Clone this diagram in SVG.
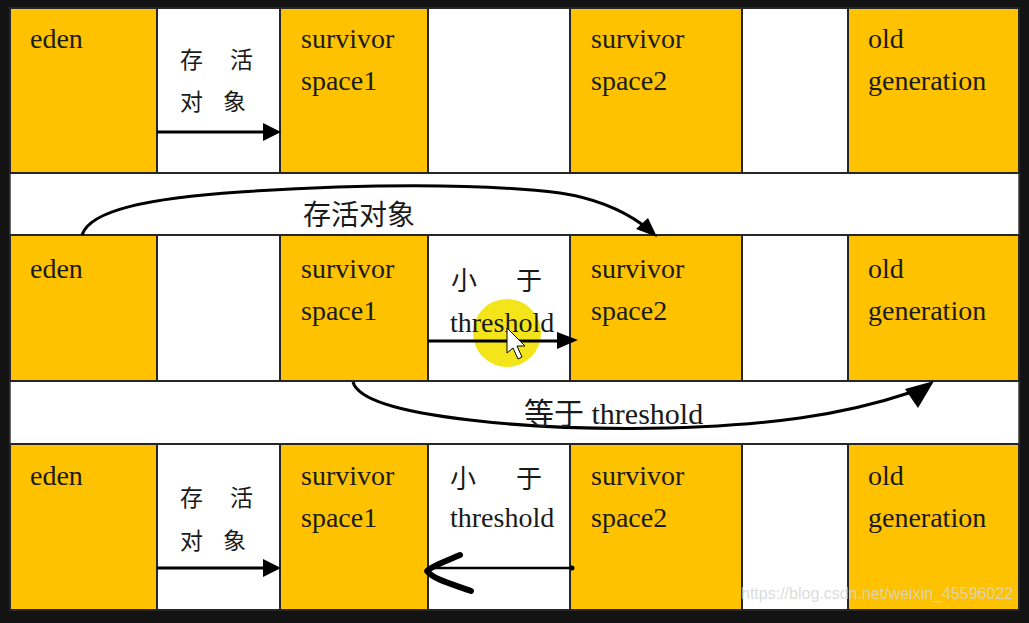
<svg xmlns="http://www.w3.org/2000/svg" width="1029" height="623" viewBox="0 0 1029 623">
<style>
.y{fill:#FFC200;stroke:#262626;stroke-width:2}
.w{fill:#FFFFFF;stroke:#262626;stroke-width:2}
.g{fill:#FFFFFF;stroke:#3a3a3a;stroke-width:1.5}
.t{font-family:"Liberation Serif","Noto Sans CJK SC",serif;font-size:28px;fill:#1a1a1a}
.c{font-family:"Liberation Serif","Noto Sans CJK SC",serif;font-size:23px;fill:#1a1a1a}
.k{font-family:"Liberation Serif","Noto Sans CJK SC",serif;font-size:26px;fill:#1a1a1a}
.ln{fill:none;stroke:#000;stroke-width:3}
.hd{fill:#000}
.wm{font-family:"Liberation Sans",sans-serif;font-size:16px;fill:#d6d6d6;fill-opacity:0.85}
</style>
<rect x="0" y="0" width="1029" height="623" fill="#131313"/>
<g id="gaps">
<rect class="g" x="10" y="173" width="1009" height="62"/>
<rect class="g" x="10" y="381" width="1009" height="63"/>
</g>
<g id="row1">
<g id="r1-eden"><rect class="y" x="10" y="8" width="147" height="165"/><text class="t" x="30" y="48">eden</text></g>
<g id="r1-gap1"><rect class="w" x="157" y="8" width="123" height="165"/></g>
<g id="r1-s1"><rect class="y" x="280" y="8" width="148" height="165"/><text class="t" x="301" y="48">survivor</text><text class="t" x="301" y="90">space1</text></g>
<g id="r1-gap2"><rect class="w" x="428" y="8" width="142" height="165"/></g>
<g id="r1-s2"><rect class="y" x="570" y="8" width="172" height="165"/><text class="t" x="591" y="48">survivor</text><text class="t" x="591" y="90">space2</text></g>
<g id="r1-gap3"><rect class="w" x="742" y="8" width="106" height="165"/></g>
<g id="r1-old"><rect class="y" x="848" y="8" width="171" height="165"/><text class="t" x="868" y="48">old</text><text class="t" x="868" y="90">generation</text></g>
</g>
<g id="row2">
<g id="r2-eden"><rect class="y" x="10" y="235" width="147" height="146"/><text class="t" x="30" y="278">eden</text></g>
<g id="r2-gap1"><rect class="w" x="157" y="235" width="123" height="146"/></g>
<g id="r2-s1"><rect class="y" x="280" y="235" width="148" height="146"/><text class="t" x="301" y="278">survivor</text><text class="t" x="301" y="320">space1</text></g>
<g id="r2-gap2"><rect class="w" x="428" y="235" width="142" height="146"/></g>
<g id="r2-s2"><rect class="y" x="570" y="235" width="172" height="146"/><text class="t" x="591" y="278">survivor</text><text class="t" x="591" y="320">space2</text></g>
<g id="r2-gap3"><rect class="w" x="742" y="235" width="106" height="146"/></g>
<g id="r2-old"><rect class="y" x="848" y="235" width="171" height="146"/><text class="t" x="868" y="278">old</text><text class="t" x="868" y="320">generation</text></g>
</g>
<g id="row3">
<g id="r3-eden"><rect class="y" x="10" y="444" width="147" height="166"/><text class="t" x="30" y="485">eden</text></g>
<g id="r3-gap1"><rect class="w" x="157" y="444" width="123" height="166"/></g>
<g id="r3-s1"><rect class="y" x="280" y="444" width="148" height="166"/><text class="t" x="301" y="485">survivor</text><text class="t" x="301" y="527">space1</text></g>
<g id="r3-gap2"><rect class="w" x="428" y="444" width="142" height="166"/></g>
<g id="r3-s2"><rect class="y" x="570" y="444" width="172" height="166"/><text class="t" x="591" y="485">survivor</text><text class="t" x="591" y="527">space2</text></g>
<g id="r3-gap3"><rect class="w" x="742" y="444" width="106" height="166"/></g>
<g id="r3-old"><rect class="y" x="848" y="444" width="171" height="166"/><text class="t" x="868" y="485">old</text><text class="t" x="868" y="527">generation</text></g>
</g>
<circle cx="507" cy="333" r="34" fill="#F2E200" fill-opacity="0.9"/>
<g id="connectors">
<line class="ln" x1="157" y1="132" x2="266" y2="132"/>
<polygon class="hd" points="263,123 281,132 263,141"/>
<text class="c" x="180" y="68">存<tspan x="230">活</tspan></text>
<text class="c" x="180" y="110">对<tspan x="223">象</tspan></text>

<path class="ln" d="M82,235 C90,210 150,198 240,192 C360,184 480,183 560,193 C600,199 625,212 643,225"/>
<polygon class="hd" points="636,229 657,237 648,218"/>
<text class="t" x="303" y="225">存活对象</text>

<line class="ln" x1="428" y1="341" x2="560" y2="341"/>
<polygon class="hd" points="557,332 578,340 557,349"/>
<text class="k" x="451" y="290">小<tspan x="516">于</tspan></text>
<text class="t" x="450" y="332">threshold</text>

<path class="ln" d="M353,382 C358,400 400,412 470,420 C560,431 700,432 800,418 C850,411 885,401 912,392"/>
<polygon class="hd" points="905,389 934,381 918,408"/>
<text class="t" x="524" y="424" style="font-size:30px">等于 threshold</text>

<line class="ln" x1="157" y1="568" x2="266" y2="568"/>
<polygon class="hd" points="263,559 281,568 263,577"/>
<text class="c" x="180" y="506">存<tspan x="230">活</tspan></text>
<text class="c" x="180" y="549">对<tspan x="223">象</tspan></text>

<line class="ln" x1="572" y1="568" x2="432" y2="568" style="stroke-width:2.5"/>
<circle cx="572" cy="568" r="2.5" fill="#000"/>
<path d="M460,555 C446,561 432,566 427,571 C434,580 455,585 471,591" fill="none" stroke="#000" stroke-width="6" stroke-linecap="round" stroke-linejoin="round"/>
<text class="k" x="450" y="488">小<tspan x="516">于</tspan></text>
<text class="t" x="450" y="527">threshold</text>
</g>
<path d="M507,328 L507,353 L513,348 L518,359 L522,357 L517,346 L525,346 Z" fill="#fff" stroke="#000" stroke-width="1"/>
<text class="wm" x="741" y="599">https://blog.csdn.net/weixin_45596022</text>
</svg>
